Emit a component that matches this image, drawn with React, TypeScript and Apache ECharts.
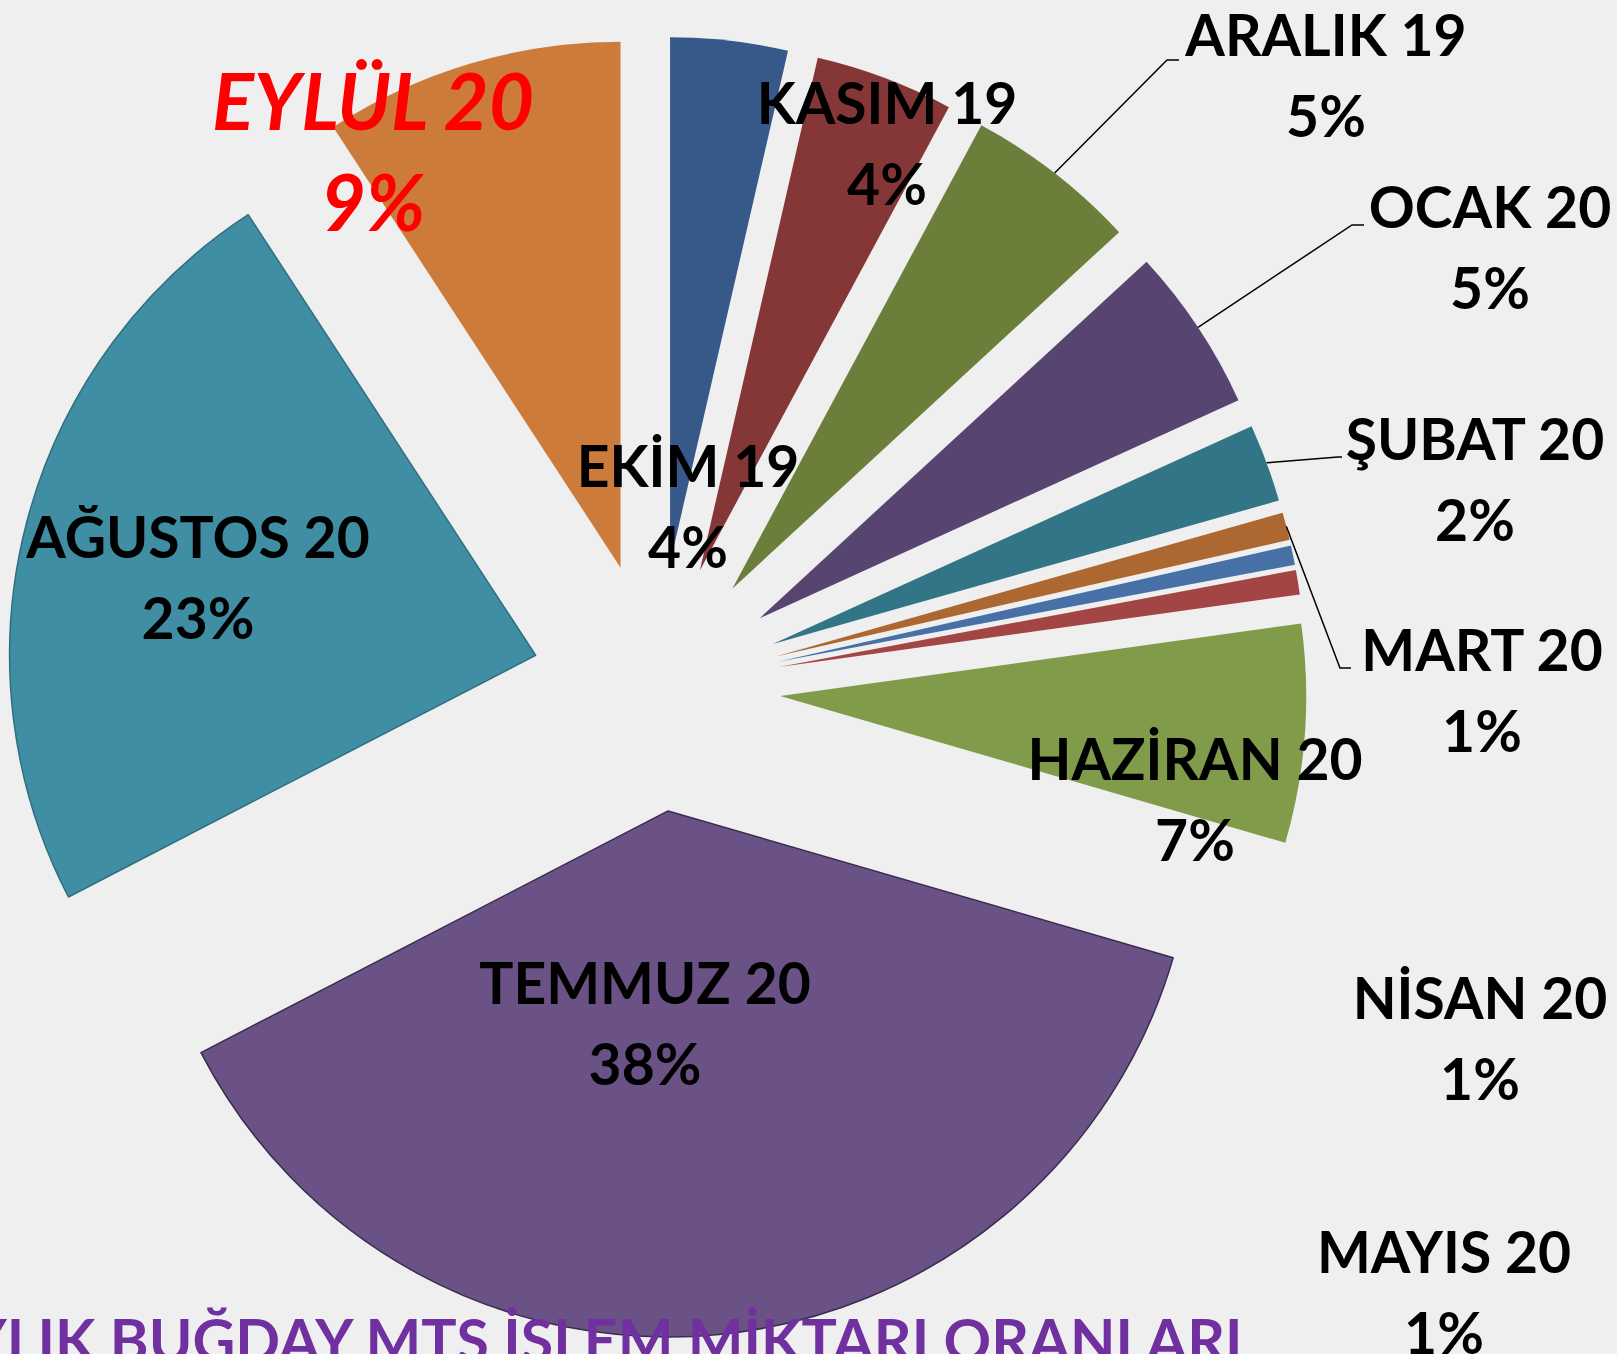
import React, { useEffect, useRef } from 'react';
import * as echarts from 'echarts';

// ---- data ----
const categories = ['EKİM 19', 'KASIM 19', 'ARALIK 19', 'OCAK 20', 'ŞUBAT 20', 'MART 20', 'NİSAN 20', 'MAYIS 20', 'HAZİRAN 20', 'TEMMUZ 20', 'AĞUSTOS 20', 'EYLÜL 20'];
const shares = [3.6, 4.25, 5.3, 5.05, 2.4, 0.85, 0.6, 0.75, 6.7, 37.9, 23.4, 9.2];
const titleText = 'AYLIK BUĞDAY MTS İŞLEM MİKTARI ORANLARI';

// ---- styles / layout ----
const sliceColors = ['#36598A', '#853636', '#6B7F3A', '#574471', '#327586', '#AC6830', '#4770A6', '#A34545', '#809C4A', '#6A5286', '#408EA4', '#CD7B3B'];
const W = 1617;
const H = 1354;
const CX = 656;
const CY = 687;
const R = 526;
const OFFSET = 124.5;
const FONT = 'Lato, "Open Sans", sans-serif';
const labelAnchors: [number, number][] = [
  [688, 505], [887, 142], [1326, 74], [1490, 246], [1475, 478], [1482, 689],
  [1480, 1037], [1444, 1291], [1195, 798], [645, 1022], [198, 576], [373, 150],
];
const leaderTails: Record<number, number[][]> = {
  2: [[1167, 60], [1179, 60]],
  3: [[1352, 225], [1364, 225]],
  4: [[1338, 457], [1342, 457]],
  5: [[1340, 668], [1351, 668]],
};

export default function App() {
  const ref = useRef<HTMLDivElement>(null);
  useEffect(() => {
    if (!ref.current) return;
    const chart = echarts.init(ref.current, null, { renderer: 'svg' });
    const total = shares.reduce((a, b) => a + b, 0);
    const mids: number[] = [];
    let acc = 0;
    shares.forEach((v) => {
      mids.push(((acc + v / 2) / total) * Math.PI * 2);
      acc += v;
    });

    const labelTexts = categories.map((name, i) => {
      const isRed = i === 11;
      return {
        type: 'text',
        z: 100,
        silent: true,
        style: {
          text: `${name}\n${Math.round((shares[i] / total) * 100)}%`,
          x: labelAnchors[i][0],
          y: labelAnchors[i][1],
          align: 'center',
          verticalAlign: 'middle',
          textAlign: 'center',
          textVerticalAlign: 'middle',
          font: `${isRed ? 'italic ' : ''}bold ${isRed ? 78 : 57}px ${FONT}`,
          lineHeight: isRed ? 101 : 81,
          fill: isRed ? '#FF0000' : '#000000',
        },
      };
    });

    const leaderLines = Object.keys(leaderTails).map((k) => {
      const i = Number(k);
      const m = mids[i];
      const start = [CX + (OFFSET + R) * Math.sin(m), CY - (OFFSET + R) * Math.cos(m)];
      return {
        type: 'polyline',
        z: 99,
        silent: true,
        shape: { points: [start, ...leaderTails[i]] },
        style: { stroke: '#000000', lineWidth: 1.5, fill: null },
      };
    });

    const option: any = {
      animation: false,
      backgroundColor: '#efefef',
      title: {
        text: titleText,
        right: W - 1245,
        top: 1310,
        padding: 0,
        z: 50,
        textStyle: { fontFamily: FONT, fontSize: 59, fontWeight: 'bold', color: '#7030A0' },
      },
      graphic: { elements: [...leaderLines, ...labelTexts] },
      series: [
        {
          type: 'pie',
          center: [CX, CY],
          radius: R,
          startAngle: 90,
          clockwise: true,
          selectedMode: 'multiple',
          selectedOffset: OFFSET,
          avoidLabelOverlap: false,
          emphasis: { disabled: true },
          label: { show: false },
          labelLine: { show: false },
          data: categories.map((name, i) => ({
            name,
            value: shares[i],
            selected: true,
            itemStyle: {
              color: sliceColors[i],
              borderColor: i === 9 ? '#3a2c4e' : i === 10 ? '#2f6f80' : sliceColors[i],
              borderWidth: i === 9 || i === 10 ? 1.5 : 0,
            },
          })),
        },
      ],
    };
    chart.setOption(option);
    return () => chart.dispose();
  }, []);
  return <div ref={ref} style={{ position: 'fixed', left: 0, top: 0, width: W, height: H }} />;
}
